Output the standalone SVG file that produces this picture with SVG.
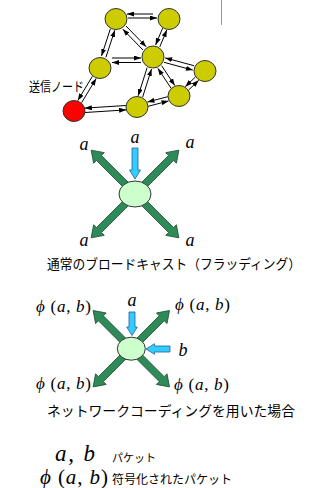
<svg xmlns="http://www.w3.org/2000/svg" width="324" height="488" viewBox="0 0 324 488">
<defs>
<style>
.nd{fill:#cccc00;stroke:#333;stroke-width:1}
.src{fill:#ff0000;stroke:#333;stroke-width:1}
.ar{stroke:#000;stroke-width:1;fill:none;marker-end:url(#ah)}
.hub{fill:#ccffcc;stroke:#333;stroke-width:1}
.gr{fill:#2e8b57;stroke:#1e4d33;stroke-width:0.8}
.bl{fill:#33ccff;stroke:#2a5d9a;stroke-width:0.8}
.m{font-family:"Liberation Serif","DejaVu Serif",serif;font-style:italic;fill:#000}
.mu{font-style:normal}
.jp{font-family:"Noto Sans CJK JP","Liberation Sans",sans-serif;fill:#000}
</style>
<marker id="ah" markerUnits="userSpaceOnUse" markerWidth="7" markerHeight="5" refX="7" refY="2.5" orient="auto">
<path d="M0,0 L7,2.5 L0,5 z" fill="#000"/>
</marker>
<path id="garr62" d="M0,-3.5 L51,-3.5 L51,-7.5 L62,0 L51,7.5 L51,3.5 L0,3.5 Z"/>
<path id="garr54" d="M0,-3.5 L43,-3.5 L43,-7.5 L54,0 L43,7.5 L43,3.5 L0,3.5 Z"/>
</defs>
<rect width="324" height="488" fill="#fff"/>
<line x1="221.5" y1="0" x2="221.5" y2="25" stroke="#999" stroke-width="1"/>

<g id="network-nodes">
<g id="nA"><ellipse class="nd" cx="116" cy="19" rx="11" ry="10.5"/></g>
<g id="nB"><ellipse class="nd" cx="169" cy="19" rx="11" ry="10.5"/></g>
<g id="nC"><ellipse class="nd" cx="153" cy="57" rx="11" ry="11"/></g>
<g id="nD"><ellipse class="nd" cx="100" cy="68" rx="11" ry="10.5"/></g>
<g id="nE"><ellipse class="nd" cx="205" cy="71" rx="11" ry="10.5"/></g>
<g id="nF"><ellipse class="nd" cx="179" cy="96" rx="11" ry="10.5"/></g>
<g id="nG"><ellipse class="nd" cx="137" cy="107" rx="11" ry="10.5"/></g>
<g id="nH"><ellipse class="src" cx="74" cy="111" rx="11" ry="10.5"/>
<text class="jp" x="29" y="91" font-size="13" textLength="55" lengthAdjust="spacingAndGlyphs">送信ノード</text></g>
</g>

<g id="network-connectors">
<line class="ar" x1="153" y1="14" x2="127" y2="14"/>
<line class="ar" x1="128" y1="18" x2="157" y2="18"/>
<line class="ar" x1="110.4" y1="28.8" x2="101.5" y2="55.9"/>
<line class="ar" x1="105.9" y1="57.3" x2="114.8" y2="30.2"/>
<line class="ar" x1="126" y1="26" x2="146.2" y2="46.8"/>
<line class="ar" x1="143" y1="50" x2="122.8" y2="29.2"/>
<line class="ar" x1="162.6" y1="28.2" x2="155.6" y2="45"/>
<line class="ar" x1="159.8" y1="46.8" x2="166.8" y2="30"/>
<line class="ar" x1="112" y1="58" x2="141" y2="58"/>
<line class="ar" x1="141" y1="62.5" x2="112" y2="62.5"/>
<line class="ar" x1="194" y1="65.7" x2="165.2" y2="57.9"/>
<line class="ar" x1="164" y1="62.3" x2="192.8" y2="70.1"/>
<line class="ar" x1="161.6" y1="65.7" x2="174.8" y2="85.5"/>
<line class="ar" x1="171" y1="88.1" x2="157.8" y2="68.3"/>
<line class="ar" x1="147.1" y1="67.7" x2="138.2" y2="95.8"/>
<line class="ar" x1="142.6" y1="97.2" x2="151.5" y2="69.1"/>
<line class="ar" x1="195.5" y1="76.9" x2="185.3" y2="86.7"/>
<line class="ar" x1="188.5" y1="90.1" x2="198.7" y2="80.3"/>
<line class="ar" x1="167.8" y1="96.7" x2="147.5" y2="102"/>
<line class="ar" x1="148.2" y1="106.3" x2="168.5" y2="101"/>
<line class="ar" x1="125.9" y1="105.5" x2="84.9" y2="108.1"/>
<line class="ar" x1="85.1" y1="112.5" x2="126.1" y2="109.9"/>
<line class="ar" x1="81.6" y1="102.7" x2="96.2" y2="78.5"/>
<line class="ar" x1="92.4" y1="76.3" x2="77.8" y2="100.5"/>
</g>

<g id="broadcast">
<use href="#garr62" class="gr" transform="translate(135,194) rotate(-135)"/>
<use href="#garr62" class="gr" transform="translate(135,194) rotate(-45)"/>
<use href="#garr62" class="gr" transform="translate(135,194) rotate(45)"/>
<use href="#garr62" class="gr" transform="translate(135,194) rotate(135)"/>
<ellipse class="hub" cx="135" cy="194" rx="16" ry="13"/>
<path class="bl" d="M132,148 H138 V170 H140.5 L135,179 L129.5,170 H132 Z"/>
<text class="m" x="84" y="150" font-size="18" text-anchor="middle">a</text>
<text class="m" x="135" y="143" font-size="18" text-anchor="middle">a</text>
<text class="m" x="190" y="148" font-size="18" text-anchor="middle">a</text>
<text class="m" x="84" y="246" font-size="18" text-anchor="middle">a</text>
<text class="m" x="190" y="246" font-size="18" text-anchor="middle">a</text>
<text class="jp" x="47" y="269" font-size="13.5" textLength="254" lengthAdjust="spacingAndGlyphs">通常のブロードキャスト（フラッディング）</text>
</g>

<g id="network-coding">
<use href="#garr54" class="gr" transform="translate(131.3,348.7) rotate(-135)"/>
<use href="#garr54" class="gr" transform="translate(131.3,348.7) rotate(-45)"/>
<use href="#garr54" class="gr" transform="translate(131.3,348.7) rotate(45)"/>
<use href="#garr54" class="gr" transform="translate(131.3,348.7) rotate(135)"/>
<ellipse class="hub" cx="131.3" cy="348.7" rx="14" ry="11.5"/>
<path class="bl" d="M129,312 H135 V327 H137.3 L132,335.5 L126.7,327 H129 Z"/>
<path class="bl" d="M170,346 V352 H154.5 V354.3 L146,349 L154.5,343.7 V346 Z"/>
<text class="m" x="132" y="306" font-size="18" text-anchor="middle">a</text>
<text class="m" x="183" y="356" font-size="18" text-anchor="middle">b</text>
<text class="m" x="36" y="312" font-size="17" textLength="55">ϕ<tspan class="mu"> (</tspan>a<tspan class="mu">, </tspan>b<tspan class="mu">)</tspan></text>
<text class="m" x="175" y="310" font-size="17" textLength="55">ϕ<tspan class="mu"> (</tspan>a<tspan class="mu">, </tspan>b<tspan class="mu">)</tspan></text>
<text class="m" x="36" y="389" font-size="17" textLength="55">ϕ<tspan class="mu"> (</tspan>a<tspan class="mu">, </tspan>b<tspan class="mu">)</tspan></text>
<text class="m" x="174" y="390" font-size="17" textLength="55">ϕ<tspan class="mu"> (</tspan>a<tspan class="mu">, </tspan>b<tspan class="mu">)</tspan></text>
<text class="jp" x="47" y="416" font-size="14" textLength="248" lengthAdjust="spacingAndGlyphs">ネットワークコーディングを用いた場合</text>
</g>

<g id="legend">
<text class="m" x="55" y="461" font-size="23" textLength="40">a<tspan class="mu">, </tspan>b</text>
<text class="jp" x="112" y="462" font-size="11">パケット</text>
<text class="m" x="40" y="484" font-size="21" textLength="68">ϕ<tspan class="mu"> (</tspan>a<tspan class="mu">, </tspan>b<tspan class="mu">)</tspan></text>
<text class="jp" x="112" y="484" font-size="12">符号化されたパケット</text>
</g>
</svg>
